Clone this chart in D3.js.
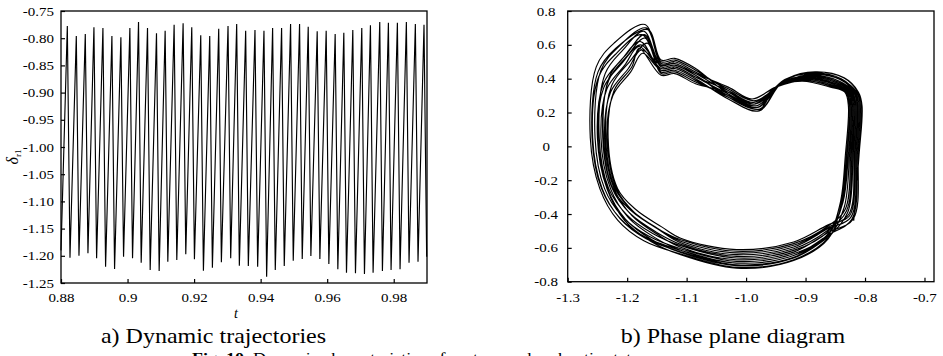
<!DOCTYPE html>
<html><head><meta charset="utf-8">
<script src="https://cdn.jsdelivr.net/npm/d3@7"></script>
<style>
html,body{margin:0;padding:0;background:#fff;overflow:hidden}
svg{display:block;font-family:"Liberation Serif","Times New Roman",serif}
</style></head><body>
<svg id="fig" width="943" height="356"></svg>
<script>
// ---------- (a) rotor angle δr1 versus time: successive crests and troughs ----------
const startSample = [0.88, -1.19];
const crestT = [0.8819,0.8846,0.8873,0.8899,0.8926,0.8953,0.8980,0.9007,0.9033,0.9060,
                0.9087,0.9113,0.9140,0.9167,0.9193,0.9220,0.9247,0.9274,0.9302,0.9328,
                0.9355,0.9383,0.9410,0.9436,0.9463,0.9490,0.9517,0.9543,0.9570,0.9597,
                0.9624,0.9650,0.9677,0.9704,0.9730,0.9758,0.9784,0.9811,0.9838,0.9865,0.9891];
const crestV = [-0.7776,-0.7960,-0.7923,-0.7800,-0.7813,-0.7960,-0.7983,-0.7813,-0.7702,-0.7813,
                -0.7910,-0.7862,-0.7752,-0.7726,-0.7800,-0.7947,-0.7960,-0.7825,-0.7776,-0.7739,
                -0.7862,-0.7849,-0.7862,-0.7813,-0.7813,-0.7739,-0.7739,-0.7789,-0.7873,-0.7862,
                -0.7923,-0.7899,-0.7849,-0.7813,-0.7763,-0.7702,-0.7715,-0.7715,-0.7702,-0.7739,-0.7752];
const troughT = [0.8827,0.8854,0.8881,0.8907,0.8934,0.8961,0.8988,0.9015,0.9041,0.9068,
                 0.9095,0.9121,0.9148,0.9175,0.9201,0.9228,0.9255,0.9282,0.9310,0.9336,
                 0.9363,0.9391,0.9418,0.9444,0.9471,0.9498,0.9525,0.9551,0.9578,0.9605,
                 0.9632,0.9658,0.9685,0.9712,0.9738,0.9766,0.9792,0.9819,0.9846,0.9873,0.9899];
const troughV = [-1.2035,-1.1998,-1.1954,-1.2046,-1.2200,-1.2243,-1.2017,-1.2046,-1.2127,-1.2261,
                 -1.2279,-1.2108,-1.2077,-1.1972,-1.2064,-1.2274,-1.2219,-1.2119,-1.2046,-1.2182,
                 -1.2188,-1.2200,-1.2384,-1.2261,-1.2188,-1.2090,-1.2059,-1.2004,-1.2059,-1.2151,
                 -1.2248,-1.2311,-1.2322,-1.2335,-1.2311,-1.2279,-1.2261,-1.2248,-1.2127,-1.2108,-1.2017];

const tTicks = [0.88, 0.90, 0.92, 0.94, 0.96, 0.98];
const tTickLabels = ["0.88", "0.9", "0.92", "0.94", "0.96", "0.98"];
const dTicks = [-0.75,-0.80,-0.85,-0.90,-0.95,-1.00,-1.05,-1.10,-1.15,-1.20,-1.25];
const dTickLabels = ["-0.75","-0.80","-0.85","-0.90","-0.95","-1.00","-1.05","-1.10","-1.15","-1.20","-1.25"];

// ---------- (b) phase plane: successive orbits of the attractor, [δ, ω] ----------
const orbitA = [[-0.819,-0.44],[-0.810,-0.05],[-0.805,0.24],[-0.811,0.32],[-0.835,0.405],[-0.883,0.44],[-0.930,0.40],[-0.985,0.27],[-1.03,0.34],[-1.085,0.44],[-1.12,0.50],[-1.143,0.49],[-1.170,0.72],[-1.222,0.61],[-1.252,0.47],[-1.262,0.05],[-1.246,-0.25],[-1.216,-0.436],[-1.172,-0.558],[-1.11,-0.636],[-1.016,-0.715],[-0.92,-0.67],[-0.862,-0.543]];
const orbitB = [[-0.826,-0.41],[-0.817,-0.05],[-0.812,0.24],[-0.818,0.32],[-0.842,0.395],[-0.890,0.43],[-0.937,0.39],[-0.980,0.23],[-1.03,0.30],[-1.085,0.42],[-1.12,0.48],[-1.143,0.47],[-1.175,0.66],[-1.218,0.55],[-1.248,0.41],[-1.258,0.05],[-1.242,-0.25],[-1.212,-0.427],[-1.168,-0.546],[-1.11,-0.623],[-1.016,-0.70],[-0.92,-0.655],[-0.862,-0.532]];
const orbitC = [[-0.822,-0.43],[-0.813,-0.05],[-0.808,0.24],[-0.814,0.32],[-0.838,0.39],[-0.886,0.425],[-0.933,0.385],[-0.988,0.26],[-1.03,0.33],[-1.085,0.45],[-1.12,0.51],[-1.143,0.50],[-1.168,0.70],[-1.214,0.59],[-1.244,0.45],[-1.254,0.05],[-1.238,-0.25],[-1.208,-0.415],[-1.164,-0.530],[-1.11,-0.605],[-1.016,-0.68],[-0.92,-0.635],[-0.862,-0.517]];
const orbitD = [[-0.831,-0.38],[-0.822,-0.05],[-0.817,0.24],[-0.823,0.32],[-0.847,0.375],[-0.895,0.41],[-0.942,0.37],[-0.978,0.21],[-1.03,0.28],[-1.085,0.40],[-1.12,0.46],[-1.143,0.45],[-1.178,0.62],[-1.210,0.51],[-1.240,0.37],[-1.250,0.05],[-1.234,-0.25],[-1.204,-0.439],[-1.160,-0.562],[-1.11,-0.641],[-1.016,-0.72],[-0.92,-0.675],[-0.862,-0.547]];
const orbitE = [[-0.824,-0.42],[-0.815,-0.05],[-0.810,0.24],[-0.816,0.32],[-0.840,0.40],[-0.888,0.435],[-0.935,0.395],[-0.984,0.25],[-1.03,0.32],[-1.085,0.43],[-1.12,0.49],[-1.143,0.48],[-1.172,0.68],[-1.207,0.57],[-1.237,0.43],[-1.247,0.05],[-1.231,-0.25],[-1.201,-0.403],[-1.157,-0.515],[-1.11,-0.587],[-1.016,-0.66],[-0.92,-0.615],[-0.862,-0.502]];
const orbitF = [[-0.835,-0.36],[-0.826,-0.05],[-0.821,0.24],[-0.827,0.32],[-0.851,0.365],[-0.899,0.40],[-0.946,0.36],[-0.982,0.24],[-1.03,0.31],[-1.085,0.41],[-1.12,0.47],[-1.143,0.46],[-1.180,0.59],[-1.204,0.48],[-1.234,0.34],[-1.244,0.05],[-1.228,-0.25],[-1.198,-0.421],[-1.154,-0.538],[-1.11,-0.614],[-1.016,-0.69],[-0.92,-0.645],[-0.862,-0.524]];
const orbitG = [[-0.829,-0.39],[-0.820,-0.05],[-0.815,0.24],[-0.821,0.32],[-0.845,0.38],[-0.893,0.415],[-0.940,0.375],[-0.976,0.22],[-1.03,0.29],[-1.085,0.39],[-1.12,0.45],[-1.143,0.44],[-1.170,0.64],[-1.201,0.53],[-1.231,0.39],[-1.241,0.05],[-1.225,-0.25],[-1.195,-0.397],[-1.151,-0.507],[-1.11,-0.579],[-1.016,-0.65],[-0.92,-0.605],[-0.862,-0.494]];
const orbitH = [[-0.839,-0.35],[-0.830,-0.05],[-0.825,0.24],[-0.831,0.32],[-0.855,0.355],[-0.903,0.39],[-0.950,0.35],[-0.990,0.28],[-1.03,0.35],[-1.085,0.43],[-1.12,0.49],[-1.143,0.48],[-1.176,0.57],[-1.198,0.46],[-1.228,0.32],[-1.238,0.05],[-1.222,-0.25],[-1.192,-0.409],[-1.148,-0.523],[-1.11,-0.596],[-1.016,-0.67],[-0.92,-0.625],[-0.862,-0.509]];
const orbitI = [[-0.833,-0.37],[-0.824,-0.05],[-0.819,0.24],[-0.825,0.32],[-0.849,0.37],[-0.897,0.405],[-0.944,0.365],[-0.981,0.23],[-1.03,0.30],[-1.085,0.38],[-1.12,0.44],[-1.143,0.43],[-1.166,0.61],[-1.196,0.50],[-1.226,0.36],[-1.236,0.05],[-1.220,-0.25],[-1.190,-0.384],[-1.146,-0.491],[-1.11,-0.561],[-1.016,-0.63],[-0.92,-0.585],[-0.862,-0.479]];
const orbitJ = [[-0.842,-0.34],[-0.833,-0.05],[-0.828,0.24],[-0.834,0.32],[-0.858,0.35],[-0.906,0.385],[-0.953,0.345],[-0.979,0.21],[-1.03,0.28],[-1.085,0.40],[-1.12,0.46],[-1.143,0.45],[-1.174,0.55],[-1.194,0.44],[-1.224,0.30],[-1.234,0.05],[-1.218,-0.25],[-1.188,-0.390],[-1.144,-0.499],[-1.11,-0.570],[-1.016,-0.64],[-0.92,-0.595],[-0.862,-0.486]];
const orbitK = [[-0.837,-0.33],[-0.828,-0.05],[-0.823,0.24],[-0.829,0.32],[-0.853,0.36],[-0.901,0.395],[-0.948,0.355],[-0.986,0.25],[-1.03,0.32],[-1.085,0.37],[-1.12,0.43],[-1.143,0.42],[-1.180,0.58],[-1.192,0.47],[-1.222,0.33],[-1.232,0.05],[-1.216,-0.25],[-1.186,-0.372],[-1.142,-0.476],[-1.11,-0.543],[-1.016,-0.61],[-0.92,-0.565],[-0.862,-0.464]];
const orbitL = [[-0.820,-0.43],[-0.811,-0.05],[-0.806,0.24],[-0.812,0.32],[-0.836,0.405],[-0.884,0.44],[-0.931,0.40],[-0.983,0.24],[-1.03,0.31],[-1.085,0.46],[-1.12,0.52],[-1.143,0.51],[-1.165,0.69],[-1.219,0.58],[-1.249,0.44],[-1.259,0.05],[-1.243,-0.25],[-1.213,-0.421],[-1.169,-0.538],[-1.11,-0.614],[-1.016,-0.69],[-0.92,-0.645],[-0.862,-0.524]];
const orbitM = [[-0.827,-0.40],[-0.818,-0.05],[-0.813,0.24],[-0.819,0.32],[-0.843,0.385],[-0.891,0.42],[-0.938,0.38],[-0.987,0.26],[-1.03,0.33],[-1.085,0.41],[-1.12,0.47],[-1.143,0.46],[-1.177,0.60],[-1.209,0.49],[-1.239,0.35],[-1.249,0.05],[-1.233,-0.25],[-1.203,-0.430],[-1.159,-0.550],[-1.11,-0.627],[-1.016,-0.705],[-0.92,-0.66],[-0.862,-0.536]];
const orbitN = [[-0.840,-0.34],[-0.831,-0.05],[-0.826,0.24],[-0.832,0.32],[-0.856,0.355],[-0.904,0.39],[-0.951,0.35],[-0.977,0.22],[-1.03,0.29],[-1.085,0.42],[-1.12,0.48],[-1.143,0.47],[-1.171,0.66],[-1.200,0.55],[-1.230,0.41],[-1.240,0.05],[-1.224,-0.25],[-1.194,-0.378],[-1.150,-0.484],[-1.11,-0.552],[-1.016,-0.62],[-0.92,-0.575],[-0.862,-0.471]];
const orbitSequence = [orbitA, orbitF, orbitC, orbitJ, orbitE, orbitH, orbitL, orbitK,
                       orbitB, orbitG, orbitD, orbitN, orbitI, orbitM];

const pxTicks = [-1.3,-1.2,-1.1,-1.0,-0.9,-0.8,-0.7];
const pxTickLabels = ["-1.3","-1.2","-1.1","-1.0","-0.9","-0.8","-0.7"];
const pyTicks = [0.8,0.6,0.4,0.2,0,-0.2,-0.4,-0.6,-0.8];
const pyTickLabels = ["0.8","0.6","0.4","0.2","0","-0.2","-0.4","-0.6","-0.8"];

const captions = ["a) Dynamic trajectories", "b) Phase plane diagram"];
const figureTitle = ["Fig. 10", "  Dynamic characteristics of system under chaotic state"];

// ---------- drawing ----------
const svg = d3.select("#fig");
const serif = '"Liberation Serif","Times New Roman",serif';
const tickFont = 12.5;   // glyphs are drawn a little wide (scaleX below)
const wide = 1.2;

function frame(g, x, y) {
  g.append("rect")
    .attr("x", x.range()[0]).attr("y", y.range()[1])
    .attr("width", x.range()[1] - x.range()[0])
    .attr("height", y.range()[0] - y.range()[1])
    .attr("fill", "none").attr("stroke", "#000").attr("stroke-width", 1.3);
}

// panel (a)
const xA = d3.scaleLinear().domain([0.88, 0.99]).range([61, 427]);
const yA = d3.scaleLinear().domain([-1.25, -0.75]).range([283, 11]);
const gA = svg.append("g");

const seriesA = [startSample];
crestT.forEach((t, i) => { seriesA.push([t, crestV[i]]); seriesA.push([troughT[i], troughV[i]]); });

gA.append("path")
  .datum(seriesA)
  .attr("fill", "none").attr("stroke", "#000").attr("stroke-width", 1.15)
  .attr("d", d3.line().x(d => xA(d[0])).y(d => yA(d[1])));

gA.append("g").attr("class", "xaxis").attr("transform", `translate(0,${yA.range()[0]})`)
  .call(d3.axisBottom(xA).tickValues(tTicks).tickFormat((d, i) => tTickLabels[i])
        .tickSizeInner(-4).tickSizeOuter(0).tickPadding(10));
gA.append("g").attr("class", "yaxis").attr("transform", `translate(${xA.range()[0]},0)`)
  .call(d3.axisLeft(yA).tickValues(dTicks).tickFormat((d, i) => dTickLabels[i])
        .tickSizeInner(-4).tickSizeOuter(0).tickPadding(7));
frame(gA, xA, yA);

gA.append("text")
  .attr("x", 236).attr("y", 318).attr("text-anchor", "middle")
  .attr("font-style", "italic").attr("font-size", 14).text("t");

const yLab = gA.append("text")
  .attr("transform", "translate(18,157) rotate(-90)")
  .attr("text-anchor", "middle").attr("font-size", 16);
yLab.append("tspan").attr("font-style", "italic").text("δ");
yLab.append("tspan").attr("font-size", 9).attr("dy", 3).text("r1");

// panel (b)
const xB = d3.scaleLinear().domain([-1.3, -0.684]).range([567.7, 934]);
const yB = d3.scaleLinear().domain([-0.8, 0.8]).range([281.7, 11]);
const gB = svg.append("g");

const trajectory = orbitSequence.flat();
gB.append("path")
  .datum(trajectory)
  .attr("fill", "none").attr("stroke", "#000").attr("stroke-width", 1.15)
  .attr("d", d3.line().x(d => xB(d[0])).y(d => yB(d[1])).curve(d3.curveCatmullRom.alpha(0.5)));

gB.append("g").attr("class", "xaxis").attr("transform", `translate(0,${yB.range()[0]})`)
  .call(d3.axisBottom(xB).tickValues(pxTicks).tickFormat((d, i) => pxTickLabels[i])
        .tickSizeInner(-4).tickSizeOuter(0).tickPadding(11.3));
const axB_y = gB.append("g").attr("transform", `translate(${xB.range()[0]},0)`)
  .call(d3.axisLeft(yB).tickValues(pyTicks).tickFormat((d, i) => pyTickLabels[i])
        .tickSizeInner(-4).tickSizeOuter(0));
frame(gB, xB, yB);

svg.selectAll(".domain").remove();
svg.selectAll(".tick line").attr("stroke", "#000").attr("stroke-width", 1.2);
svg.selectAll(".tick text").attr("font-size", tickFont)
  .attr("font-family", serif).attr("fill", "#000")
  .attr("transform", `scale(${wide},1)`);
gA.selectAll(".yaxis .tick text").attr("x", -7 / wide);
axB_y.selectAll(".tick text").attr("text-anchor", "middle").attr("x", -21.5 / wide);

// captions
[[213.5, captions[0]], [733, captions[1]]].forEach(([cx, s]) => {
  svg.append("text").attr("transform", `translate(${cx},343) scale(${wide},1)`)
    .attr("text-anchor", "middle").attr("font-size", 20).text(s);
});

// figure title sits on the lower edge of the sheet
const title = svg.append("text").attr("transform", `translate(192,363) scale(${wide},1)`)
  .attr("font-size", 15);
title.append("tspan").attr("font-weight", "bold").text(figureTitle[0]);
title.append("tspan").attr("xml:space", "preserve").text(figureTitle[1]);
</script>
</body></html>
